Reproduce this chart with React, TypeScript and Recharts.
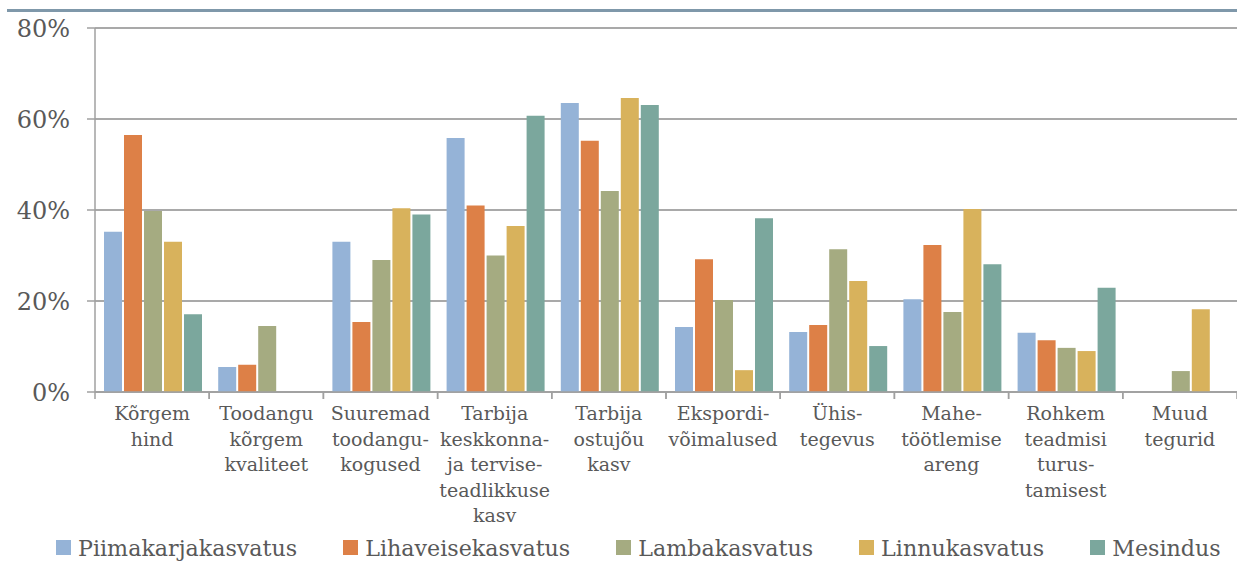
import React from "react";
import { BarChart, Bar, XAxis, YAxis, CartesianGrid } from "recharts";

const categories = [
  "Kõrgem\nhind",
  "Toodangu\nkõrgem\nkvaliteet",
  "Suuremad\ntoodangu-\nkogused",
  "Tarbija\nkeskkonna-\nja tervise-\nteadlikkuse\nkasv",
  "Tarbija\nostujõu\nkasv",
  "Ekspordi-\nvõimalused",
  "Ühis-\ntegevus",
  "Mahe-\ntöötlemise\nareng",
  "Rohkem\nteadmisi\nturus-\ntamisest",
  "Muud\ntegurid",
];

const piimakarjakasvatus = [35.2, 5.5, 33, 55.8, 63.5, 14.3, 13.2, 20.4, 13, 0];
const lihaveisekasvatus = [56.5, 6, 15.4, 41, 55.2, 29.2, 14.7, 32.3, 11.4, 0];
const lambakasvatus = [39.8, 14.5, 29, 30, 44.2, 20.2, 31.4, 17.6, 9.7, 4.6];
const linnukasvatus = [33, 0, 40.4, 36.5, 64.6, 4.8, 24.4, 40.2, 9, 18.2];
const mesindus = [17.1, 0, 39, 60.7, 63.1, 38.2, 10.1, 28.1, 22.9, 0];

const yTicks = [0, 20, 40, 60, 80];

const series = [
  { key: "p", name: "Piimakarjakasvatus", color: "#95b3d7", values: piimakarjakasvatus },
  { key: "l", name: "Lihaveisekasvatus", color: "#dd8047", values: lihaveisekasvatus },
  { key: "m", name: "Lambakasvatus", color: "#a5ab81", values: lambakasvatus },
  { key: "n", name: "Linnukasvatus", color: "#d8b25c", values: linnukasvatus },
  { key: "s", name: "Mesindus", color: "#7ba79d", values: mesindus },
];

const data = categories.map((c, i) => {
  const row: any = { cat: c };
  series.forEach((s) => (row[s.key] = s.values[i]));
  return row;
});

const W = 1237;
const H = 562;
const PLOT_LEFT = 95;
const PLOT_TOP = 28;
const PLOT_BOTTOM = 392;
const BAND = (W - PLOT_LEFT) / categories.length;
const TEXT = "#595959";
const FONT = "'DejaVu Serif', serif";

const XTick = (props: any) => {
  const { x, y, payload } = props;
  const lines = String(payload.value).split("\n");
  return (
    <g>
      <line x1={x - BAND / 2} x2={x - BAND / 2} y1={y} y2={y + 7} stroke="#a0a0a0" strokeWidth={1.5} />
      <line x1={x + BAND / 2} x2={x + BAND / 2} y1={y} y2={y + 7} stroke="#a0a0a0" strokeWidth={1.5} />
      <text textAnchor="middle" fontFamily={FONT} fontSize={19} fill={TEXT}>
        {lines.map((l, i) => (
          <tspan key={i} x={x} y={y + 28 + i * 25.5}>
            {l}
          </tspan>
        ))}
      </text>
    </g>
  );
};

export default function App() {
  return (
    <div style={{ position: "absolute", left: 0, top: 0, width: W, height: H, background: "#fff", overflow: "hidden" }}>
      <div style={{ position: "absolute", left: 7, top: 9, width: W - 7, height: 3, background: "#7f98aa" }} />
      <BarChart
        width={W}
        height={H}
        data={data}
        margin={{ top: PLOT_TOP, right: 0, bottom: 0, left: 0 }}
        barCategoryGap={9}
        barGap={2}
      >
        <CartesianGrid vertical={false} stroke="#8c8c8c" strokeWidth={1.5} />
        <XAxis
          dataKey="cat"
          interval={0}
          tickLine={false}
          tickSize={0}
          tickMargin={0}
          axisLine={{ stroke: "#a0a0a0", strokeWidth: 1.5 }}
          tick={<XTick />}
          height={H - PLOT_BOTTOM}
        />
        <YAxis
          width={PLOT_LEFT}
          domain={[0, 80]}
          ticks={yTicks}
          interval={0}
          tickFormatter={(v: number) => `${v}%`}
          tickSize={8}
          tickMargin={17}
          tickLine={{ stroke: "#a0a0a0", strokeWidth: 1.5 }}
          axisLine={{ stroke: "#a0a0a0", strokeWidth: 1.5 }}
          tick={{ fill: TEXT, fontSize: 24, fontFamily: FONT }}
        />
        {series.map((s) => (
          <Bar key={s.key} dataKey={s.key} name={s.name} fill={s.color} isAnimationActive={false} />
        ))}
      </BarChart>
      <div
        style={{
          position: "absolute",
          left: 56,
          top: 532,
          display: "flex",
          alignItems: "center",
          fontFamily: FONT,
          fontSize: 22.2,
          color: TEXT,
          whiteSpace: "nowrap",
        }}
      >
        {series.map((s) => (
          <div key={s.key} style={{ display: "flex", alignItems: "center", marginRight: 46 }}>
            <div style={{ width: 15, height: 15, background: s.color, marginRight: 7, marginTop: 1 }} />
            <span style={{ lineHeight: "30px", position: "relative", top: 1 }}>{s.name}</span>
          </div>
        ))}
      </div>
    </div>
  );
}
